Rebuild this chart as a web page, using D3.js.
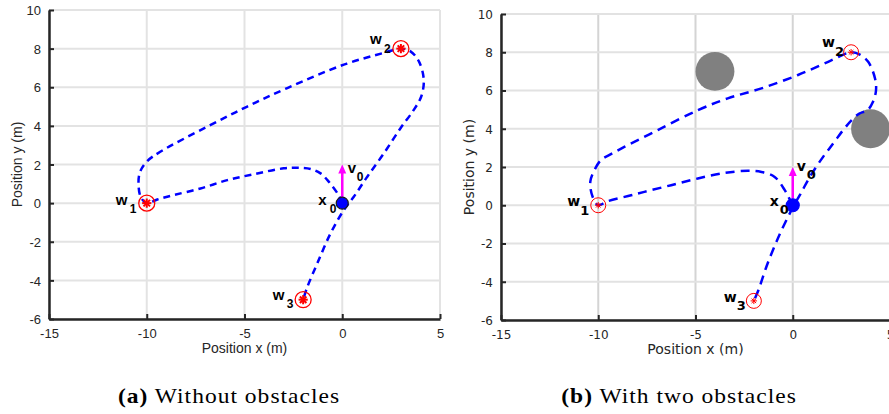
<!DOCTYPE html>
<html>
<head>
<meta charset="utf-8">
<script src="https://cdn.jsdelivr.net/npm/d3@7"></script>
<style>
  html, body { margin: 0; padding: 0; background: #fff; }
  svg { display: block; }
</style>
</head>
<body>
<svg id="fig" width="889" height="414"></svg>
<script>
// ---- data (metres) ----
const xTicks = [-15, -10, -5, 0, 5];
const yTicks = [-6, -4, -2, 0, 2, 4, 6, 8, 10];

const waypointNames = ["1", "2", "3"];
const waypointX = [-10, 3, -2];
const waypointY = [0, 8, -5];

const startX = 0, startY = 0;       // x0
const velocityTipY = 2;             // v0 arrow points straight up

// trajectory without obstacles
const pathA_x = [0, -0.19, -0.68, -1.11, -1.62, -2.22, -2.99, -4.52, -5.88, -7.25, -8.61, -9.46, -10,
  -10.3, -10.42, -10.35, -10.0, -9.29, -6.9, -4.86, -2.81, 0.08, 2.13, 3,
  3.49, 3.92, 4.17, 4.04, 3.66, 2.98, 2.13, 1.28, 0.59, 0.08, -0.6, -1.28, -1.79, -2];
const pathA_y = [0, 0.42, 1.1, 1.54, 1.77, 1.83, 1.8, 1.5, 1.19, 0.76, 0.42, 0.19, 0,
  0.3, 0.95, 1.6, 2.15, 2.67, 3.96, 5.0, 5.96, 7.17, 7.78, 8,
  7.86, 7.34, 6.39, 5.52, 4.83, 3.88, 2.58, 1.37, 0.33, -0.36, -1.57, -3.13, -4.35, -5];

// trajectory with two obstacles
const pathB_x = [0, -0.2, -0.41, -0.93, -1.61, -2.3, -3.5, -4.88, -6.25, -7.63, -8.31, -9.52, -10,
  -10.29, -10.41, -10.2, -9.86, -9.35, -8.66, -6.94, -4.88, -3.34, -1.61, 0.27, 1.82, 3,
  3.45, 3.88, 4.23, 4.28, 4.12, 3.85, 3.4, 3.03, 2.59, 2.08, 1.56, 0.95, 0.4, -0.07, -0.75, -1.35, -1.75, -2];
const pathB_y = [0, 0.4, 0.79, 1.48, 1.74, 1.8, 1.69, 1.4, 1.05, 0.7, 0.52, 0.21, 0,
  0.44, 1.22, 1.83, 2.36, 2.67, 3.05, 3.93, 4.97, 5.59, 6.11, 6.81, 7.5, 8,
  7.88, 7.5, 6.63, 6.0, 5.4, 4.98, 4.78, 4.45, 3.93, 3.23, 2.53, 1.6, 0.6, -0.26, -1.7, -3.2, -4.4, -5];

const obstacleX = [-4, 4];
const obstacleY = [7, 4];
const obstacleR = [1, 1];

// ---- layout / styling per panel ----
const panels = [
  {
    left: 49, right: 440, top: 10, bottom: 319,
    font: "'Liberation Sans', Arial, sans-serif", tickSize: 13, labelSize: 14,
    gridColor: "#e3e3e3", gridColorV: "#e3e3e3", dash: "7,5", px: pathA_x, py: pathA_y, obstacles: false,
    wpR: 8, wpStar: 4.6, wpStarW: 2, wpRingW: 1.3,
    startR: 6, startStroke: "#1a1a1a",
    arrowFromY: 0, markFont: "'Liberation Sans', Arial, sans-serif", markSize: 15, subSize: 12,
    wLab: [[-31, 2, -17, 9.5], [-31, -5, -17, 4.5], [-30.5, 0, -16.5, 8]],
    xLab: [-24, 2, -12.5, 9.5], vLab: [5.5, -30, 14.5, -22.5],
    caption: "Without obstacles", capTag: "(a)", capX: 229
  },
  {
    left: 501, right: 890, top: 14, bottom: 320,
    font: "'DejaVu Sans', sans-serif", tickSize: 12, labelSize: 14,
    gridColor: "#e2e2e2", gridColorV: "#d4d4d4", dash: "9,6", px: pathB_x, py: pathB_y, obstacles: true,
    wpR: 7.5, wpStar: 3.2, wpStarW: 1, wpRingW: 1,
    startR: 6.5, startStroke: "#0000ff",
    arrowFromY: 0.35, markFont: "'DejaVu Sans', sans-serif", markSize: 14, subSize: 13,
    wLab: [[-31, 1, -18, 9.5], [-29, -5, -16, 4], [-30, 1.5, -17, 9]],
    xLab: [-23, 1, -13, 9], vLab: [4, -34, 14, -26],
    caption: "With two obstacles", capTag: "(b)", capX: 679
  }
];

const svg = d3.select("#fig");

panels.forEach((p) => {
  const x = d3.scaleLinear().domain([-15, 5]).range([p.left, p.right]);
  const y = d3.scaleLinear().domain([-6, 10]).range([p.bottom, p.top]);
  const g = svg.append("g");

  // grid
  g.append("g").selectAll("line").data(xTicks).join("line")
    .attr("x1", d => x(d)).attr("x2", d => x(d))
    .attr("y1", p.top).attr("y2", p.bottom)
    .attr("stroke", p.gridColorV).attr("stroke-width", 2);
  g.append("g").selectAll("line").data(yTicks).join("line")
    .attr("x1", p.left).attr("x2", p.right)
    .attr("y1", d => y(d)).attr("y2", d => y(d))
    .attr("stroke", p.gridColor).attr("stroke-width", 2);

  // obstacles
  if (p.obstacles) {
    g.append("g").selectAll("circle").data(obstacleX).join("circle")
      .attr("cx", d => x(d)).attr("cy", (d, i) => y(obstacleY[i]))
      .attr("r", (d, i) => x(obstacleR[i]) - x(0))
      .attr("fill", "#808080");
  }

  // axes (ticks point inward, plain hyphen minus signs)
  const fmt = d => String(d);
  const xAxis = d3.axisBottom(x).tickValues(xTicks).tickFormat(fmt).tickSizeInner(-5).tickSizeOuter(0).tickPadding(10);
  const yAxis = d3.axisLeft(y).tickValues(yTicks).tickFormat(fmt).tickSizeInner(-5).tickSizeOuter(0).tickPadding(8);
  const gx = g.append("g").attr("transform", `translate(0,${p.bottom})`).call(xAxis);
  const gy = g.append("g").attr("transform", `translate(${p.left},0)`).call(yAxis);
  [gx, gy].forEach(a => {
    a.select(".domain").attr("stroke", "#262626").attr("stroke-width", 2.5);
    a.selectAll(".tick line").attr("stroke", "#262626").attr("stroke-width", 2);
    a.selectAll(".tick text").attr("fill", "#262626")
      .style("font-family", p.font).style("font-size", p.tickSize + "px");
  });
  gx.selectAll(".tick text").attr("dy", "0.71em");
  gy.selectAll(".tick text").attr("dy", "0.36em");

  // axis titles
  g.append("text")
    .attr("x", (p.left + p.right) / 2)
    .attr("y", p.bottom + 34)
    .attr("text-anchor", "middle").attr("fill", "#262626")
    .style("font-family", p.font).style("font-size", p.labelSize + "px")
    .text("Position x (m)");
  g.append("text")
    .attr("transform", `translate(${p.left - 27},${(p.top + p.bottom) / 2}) rotate(-90)`)
    .attr("text-anchor", "middle").attr("fill", "#262626")
    .style("font-family", p.font).style("font-size", p.labelSize + "px")
    .text("Position y (m)");

  // trajectory
  const line = d3.line().x(d => x(d[0])).y(d => y(d[1])).curve(d3.curveCatmullRom.alpha(0.5));
  g.append("path")
    .datum(p.px.map((v, i) => [v, p.py[i]]))
    .attr("d", line)
    .attr("fill", "none").attr("stroke", "#0000ff")
    .attr("stroke-width", 2.5).attr("stroke-dasharray", p.dash);

  // waypoints: ring + asterisk
  const wp = g.append("g").selectAll("g").data(waypointX).join("g")
    .attr("transform", (d, i) => `translate(${x(d)},${y(waypointY[i])})`);
  wp.append("circle").attr("r", p.wpR).attr("fill", "none")
    .attr("stroke", "#ff0000").attr("stroke-width", p.wpRingW);
  [0, 45, 90, 135].forEach(a => {
    const r = p.wpStar, t = a * Math.PI / 180;
    wp.append("line")
      .attr("x1", -r * Math.cos(t)).attr("y1", -r * Math.sin(t))
      .attr("x2", r * Math.cos(t)).attr("y2", r * Math.sin(t))
      .attr("stroke", "#ff0000").attr("stroke-width", p.wpStarW);
  });

  // velocity arrow
  const ax = x(startX), ay0 = y(startY + p.arrowFromY), ay1 = y(velocityTipY);
  g.append("line").attr("x1", ax).attr("x2", ax).attr("y1", ay0).attr("y2", ay1 + 7)
    .attr("stroke", "#ff00ff").attr("stroke-width", 2.5);
  g.append("path")
    .attr("d", `M${ax},${ay1} L${ax - 4},${ay1 + 9} L${ax + 4},${ay1 + 9} Z`)
    .attr("fill", "#ff00ff");

  // start point
  g.append("circle").attr("cx", x(startX)).attr("cy", y(startY)).attr("r", p.startR)
    .attr("fill", "#0000ff").attr("stroke", p.startStroke).attr("stroke-width", 1.2);

  // labels with subscripts
  const lab = (px0, py0, o, base, sub) => {
    g.append("text").attr("x", px0 + o[0]).attr("y", py0 + o[1])
      .style("font-family", p.markFont).style("font-size", p.markSize + "px")
      .style("font-weight", "bold").attr("fill", "#000").text(base);
    g.append("text").attr("x", px0 + o[2]).attr("y", py0 + o[3])
      .style("font-family", p.markFont).style("font-size", p.subSize + "px")
      .style("font-weight", "bold").attr("fill", "#000").text(sub);
  };
  waypointX.forEach((wx, i) => lab(x(wx), y(waypointY[i]), p.wLab[i], "w", waypointNames[i]));
  lab(x(startX), y(startY), p.xLab, "x", "0");
  lab(x(startX), y(startY), p.vLab, "v", "0");

  // caption, widened to the figure's serif proportions
  const cap = svg.append("text")
    .attr("transform", `translate(${p.capX},403) scale(1.12,1)`)
    .attr("text-anchor", "middle").attr("fill", "#000")
    .style("font-family", "'Liberation Serif', 'Times New Roman', serif")
    .style("font-size", "21px").style("letter-spacing", "0.9px");
  cap.append("tspan").style("font-weight", "bold").text(p.capTag);
  cap.append("tspan").text(" " + p.caption);
});
</script>
</body>
</html>
